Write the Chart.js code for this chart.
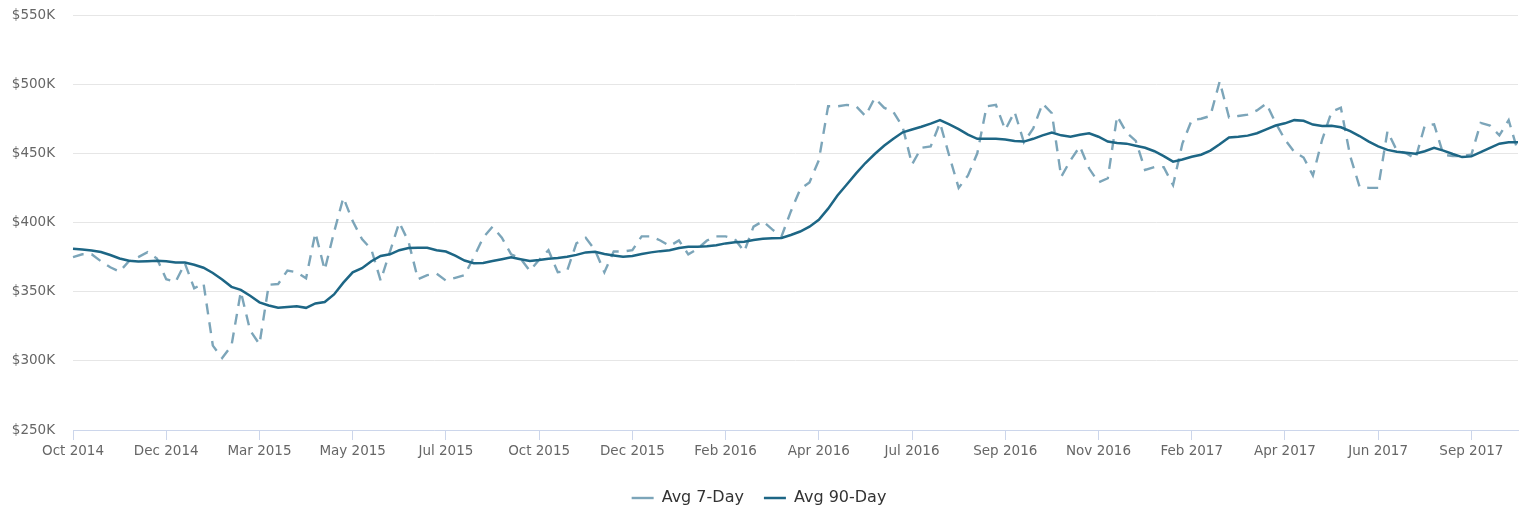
<!DOCTYPE html>
<html>
<head>
<meta charset="utf-8">
<script src="https://cdn.jsdelivr.net/npm/chart.js@4.4.0/dist/chart.umd.min.js"></script>
<style>
  html, body { margin: 0; padding: 0; background: #fff; }
  #wrap { width: 1524px; height: 512px; }
</style>
</head>
<body>
<div id="wrap"><canvas id="priceChart" width="1524" height="512"></canvas></div>
<script>
// weekly average price in $K, Oct 2014 -> Oct 2017 (one point per week)
const tickLabels = ['Oct 2014', 'Dec 2014', 'Mar 2015', 'May 2015', 'Jul 2015', 'Oct 2015', 'Dec 2015', 'Feb 2016',
    'Apr 2016', 'Jul 2016', 'Sep 2016', 'Nov 2016', 'Feb 2017', 'Apr 2017', 'Jun 2017', 'Sep 2017'];
const weeksPerTick = 10;

const avg7Day = [
    375, 377, 377, 372, 367.6, 364.5, 372, 375, 378.6, 374,
    359, 357, 370.5, 352.4, 356, 311, 302, 311, 350, 322,
    312, 355, 355.5, 365.3, 364, 359.7, 392.6, 365.7, 393, 418,
    401, 388, 380.6, 358, 379, 400, 386, 359, 362, 363,
    358, 360, 362, 375, 389, 397, 389, 377, 374, 365,
    373, 380, 364, 365, 385, 389, 380, 364, 379, 379,
    380, 390, 390, 387, 383, 387, 377, 381, 387, 390,
    390, 388, 379, 397, 401, 395, 390, 408, 424, 429,
    445, 484, 484, 485, 484, 477, 490, 483, 480, 469,
    442, 454, 455, 472, 448, 425, 434, 450, 484, 485,
    467, 480, 458, 468, 486, 479, 433, 445, 455, 439,
    429, 432, 477, 465, 459, 438, 440, 440, 427, 457,
    474, 475, 477, 502, 476, 477, 478, 481, 486, 472,
    460, 451, 447, 434, 460, 480, 483, 448, 426, 425,
    425, 466, 452, 450, 446, 470, 471, 449, 448, 448,
    449, 472, 470, 463, 474, 451
];

const avg90Day = [
    381, 380.5, 379.8, 378.7, 376.5, 374, 372.3, 371.8, 372, 372.3,
    372, 371.1, 371, 369.5, 367.3, 363.5, 358.8, 353.5, 351.3, 347,
    342.3, 340, 338.4, 339, 339.5, 338.3, 341.5, 342.5, 348, 356.5,
    364, 367, 372, 375.8, 377, 380, 381.5, 381.8, 381.8, 380,
    379, 376, 372.5, 370.6, 370.8, 372.2, 373.5, 374.9, 373.5, 372.2,
    372.9, 373.8, 374.4, 375.3, 376.6, 378.4, 378.9, 377.2, 376.2, 375.3,
    375.8, 377.2, 378.4, 379.3, 380, 381.6, 382.5, 382.5, 382.8, 383.6,
    384.9, 385.8, 386.1, 387.4, 388.2, 388.6, 388.8, 391, 393.5, 397,
    402, 410, 419.5, 427.5, 435.5, 443, 449.5, 455.5, 460.5, 465.2,
    467.2, 469.2, 471.5, 474, 471, 467.5, 463.5, 460.5, 460.5, 460.5,
    460, 459, 458.5, 460.5, 463, 465, 463, 462, 463.5, 464.5,
    462, 458.5, 457.5, 457, 455.5, 454, 451.5, 448, 444, 445.5,
    447.5, 449, 452, 456.5, 461.5, 462, 462.8, 464.5, 467.3, 470.1,
    471.7, 474, 473.5, 470.8, 469.8, 470, 468.8, 466, 462.5, 458.5,
    455, 452.5, 451.2, 450.5, 449.7, 451.5, 454, 452, 449.5, 447.3,
    447.8, 450.8, 454, 457, 458, 458
];

const yMin = 250, yMax = 550, yStep = 50;

// one category per week, only every 10th one carries a label
const categories = avg7Day.map((v, i) => i % weeksPerTick === 0 ? (tickLabels[i / weeksPerTick] || '') : '');

Chart.defaults.font.family = "'DejaVu Sans', Verdana, sans-serif";
Chart.defaults.color = '#666';

new Chart(document.getElementById('priceChart'), {
    type: 'line',
    data: {
        labels: categories,
        datasets: [{
            label: 'Avg 7-Day',
            data: avg7Day,
            borderColor: '#7ca5b9',
            backgroundColor: '#7ca5b9',
            borderWidth: 2.4,
            borderDash: [11, 8],
            pointRadius: 0,
            tension: 0,
            order: 1
        }, {
            label: 'Avg 90-Day',
            data: avg90Day,
            borderColor: '#1d6685',
            backgroundColor: '#1d6685',
            borderWidth: 2.5,
            pointRadius: 0,
            tension: 0,
            order: 0
        }]
    },
    options: {
        responsive: false,
        animation: false,
        layout: { padding: { top: 15, right: 6, left: 0, bottom: 0 } },
        scales: {
            x: {
                afterFit: s => { s.height = 40; },
                border: { display: true, color: '#ccd6eb', width: 1 },
                grid: {
                    drawOnChartArea: false,
                    drawTicks: true,
                    tickLength: 10,
                    color: ctx => ctx.index % weeksPerTick === 0 ? '#ccd6eb' : 'rgba(0,0,0,0)'
                },
                ticks: { autoSkip: false, maxRotation: 0, padding: 3, color: '#666', font: { size: 13.5 } }
            },
            y: {
                min: yMin,
                max: yMax,
                afterFit: s => { s.width = 73; s.paddingTop = 0; s.paddingBottom = 0; },
                border: { display: false },
                grid: { color: '#e6e6e6', drawTicks: false },
                ticks: {
                    stepSize: yStep,
                    padding: 18,
                    color: '#666',
                    font: { size: 13.5 },
                    callback: v => '$' + v + 'K'
                }
            }
        },
        plugins: {
            tooltip: { enabled: false },
            legend: {
                position: 'bottom',
                maxHeight: 42,
                labels: {
                    usePointStyle: true,
                    pointStyle: 'line',
                    pointStyleWidth: 22,
                    padding: 20,
                    color: '#333',
                    font: { size: 16 },
                    sort: (a, b) => a.datasetIndex - b.datasetIndex,
                    generateLabels: chart => {
                        const items = Chart.defaults.plugins.legend.labels.generateLabels(chart);
                        items.forEach(it => { if (it.lineDash && it.lineDash.length) it.lineDashOffset = 9; });
                        return items;
                    }
                }
            }
        }
    }
});
</script>
</body>
</html>
